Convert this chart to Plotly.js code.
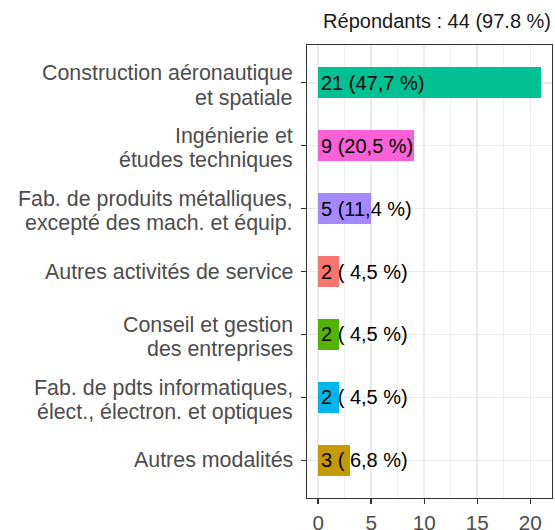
<!DOCTYPE html>
<html>
<head>
<meta charset="utf-8">
<script src="https://cdn.plot.ly/plotly-3.0.1.min.js"></script>
<style>
html,body{margin:0;padding:0;background:#fff;}
#chart{width:555px;height:530px;}
</style>
</head>
<body>
<div id="chart"></div>
<script>
// Data (top to bottom)
const categories = [
  "Construction aéronautique<br>et spatiale",
  "Ingénierie et<br>études techniques",
  "Fab. de produits métalliques,<br>excepté des mach. et équip.",
  "Autres activités de service",
  "Conseil et gestion<br>des entreprises",
  "Fab. de pdts informatiques,<br>élect., électron. et optiques",
  "Autres modalités"
];
const counts = [21, 9, 5, 2, 2, 2, 3];
const labels = ["21 (47,7 %)", "9 (20,5 %)", "5 (11,4 %)", "2 ( 4,5 %)", "2 ( 4,5 %)", "2 ( 4,5 %)", "3 ( 6,8 %)"];
const colors = ["#00C094", "#FB61D7", "#A58AFF", "#F8766D", "#53B400", "#00B6EB", "#C49A00"];
const titleText = "Répondants : 44 (97.8 %)";
const xTicks = [0, 5, 10, 15, 20];

const font = "Liberation Sans, Arial, sans-serif";
const positions = categories.map((c, i) => i);

const bar = {
  type: "bar",
  orientation: "h",
  x: counts,
  y: positions,
  width: 0.5,
  marker: {color: colors, line: {width: 0}},
  hoverinfo: "none",
  showlegend: false
};

const annotations = labels.map((t, i) => ({
  x: 0, y: positions[i], xref: "x", yref: "y",
  text: t, showarrow: false,
  xanchor: "left", yanchor: "middle",
  xshift: 1,
  font: {family: font, size: 20, color: "#000000"}
}));

// category labels, one annotation per line for tighter line spacing
const LINE = 24.5;
categories.forEach((c, i) => {
  const lines = c.split("<br>");
  const n = lines.length;
  lines.forEach((ln, k) => {
    const off = (k - (n - 1) / 2) * LINE + (n > 1 ? 2.5 : 0);
    annotations.push({
      x: 0, xref: "paper", y: positions[i], yref: "y",
      text: ln, showarrow: false,
      xanchor: "right", yanchor: "middle",
      xshift: -12, yshift: -off,
      font: {family: font, size: 21.4, color: "#4d4d4d"}
    });
  });
});

const layout = {
  width: 555, height: 530,
  margin: {l: 307, r: 3, t: 45, b: 32, pad: 0},
  paper_bgcolor: "#ffffff",
  plot_bgcolor: "#ffffff",
  font: {family: font, size: 20, color: "#4d4d4d"},
  title: {
    text: titleText,
    font: {family: font, size: 20, color: "#1a1a1a"},
    xref: "container", x: 551/555, xanchor: "right",
    yref: "container", y: 1 - 20.5/530, yanchor: "middle"
  },
  xaxis: {
    range: [-1.05, 22.05],
    tickmode: "array", tickvals: xTicks, ticktext: xTicks.map(String),
    showgrid: true, gridcolor: "#ebebeb", gridwidth: 1.5,
    minor: {dtick: 2.5, tick0: 0, showgrid: true, gridcolor: "#ebebeb", gridwidth: 0.75, ticks: ""},
    zeroline: false,
    showline: true, mirror: true, linecolor: "#333333", linewidth: 1.4,
    ticks: "outside", ticklen: 5, tickwidth: 1.4, tickcolor: "#333333",
    ticklabelstandoff: 1,
    tickfont: {family: font, size: 20.7, color: "#4d4d4d"},
    fixedrange: true
  },
  yaxis: {
    range: [6.6, -0.6],
    tickmode: "array", tickvals: positions, ticktext: categories.map(() => ""),
    showgrid: true, gridcolor: "#ebebeb", gridwidth: 1.5,
    zeroline: false,
    showline: true, mirror: true, linecolor: "#333333", linewidth: 1.4,
    ticks: "outside", ticklen: 5, tickwidth: 1.4, tickcolor: "#333333",
    fixedrange: true
  },
  annotations: annotations,
  bargap: 0
};

Plotly.newPlot("chart", [bar], layout, {displayModeBar: false, staticPlot: true});
</script>
</body>
</html>
